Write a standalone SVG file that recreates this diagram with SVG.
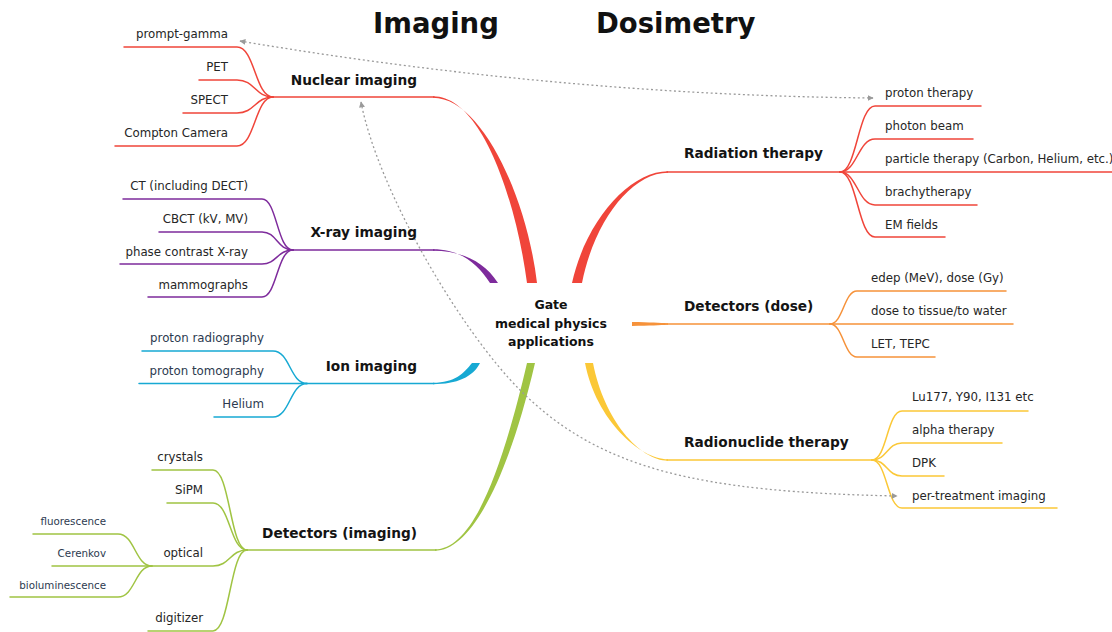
<svg xmlns="http://www.w3.org/2000/svg" width="1112" height="632" viewBox="0 0 1112 632">
<style>
text{font-family:"DejaVu Sans","Liberation Sans",sans-serif}
.title{font-size:27.5px;font-weight:bold;fill:#111}
.topic{font-size:13.7px;font-weight:bold;fill:#141414}
.center{font-size:12.5px;font-weight:bold;fill:#111;text-anchor:middle}
.leaf{font-size:11.8px;fill:#262626}
.leafb{font-size:11.8px;fill:#2c3a4f}
.small{font-size:10.3px;fill:#2c3a4f}
.r{text-anchor:end}
.ln{fill:none;stroke-width:1.5;stroke-linecap:round}
.red{stroke:#f0453a}.pur{stroke:#7e2b9c}.cya{stroke:#17a9d3}.gre{stroke:#a0c443}.ora{stroke:#f6923a}.yel{stroke:#fbc837}
.fred{fill:#f0453a}.fpur{fill:#7e2b9c}.fcya{fill:#17a9d3}.fgre{fill:#a0c443}.fora{fill:#f6923a}.fyel{fill:#fbc837}
.dot{fill:none;stroke:#9a9a9a;stroke-width:1.3;stroke-dasharray:2 2.6}
</style>
<defs>
<marker id="arr" viewBox="0 0 10 10" refX="9" refY="5" markerWidth="6" markerHeight="6" markerUnits="userSpaceOnUse" orient="auto-start-reverse">
<path d="M0,0 L10,5 L0,10 Z" fill="#9a9a9a"/>
</marker>
</defs>

<g id="connectors">
<!-- main branches -->
<path class="fred" d="M433,96.3 C482,96.3 516,200 527,283 L537,283 C527,198 482,97.7 433,97.7 Z"/>
<path class="ln red" d="M273,97 H434"/>
<path class="fpur" d="M433,249.3 C460,249.3 477,263 490,283 L498,283 C484,261 461,250.7 433,250.7 Z"/>
<path class="ln pur" d="M293,250 H434"/>
<path class="fcya" d="M433,382.8 C455,382.8 464,373 472,363 L480,363 C473,377 457,384.2 433,384.2 Z"/>
<path class="ln cya" d="M307,383.5 H434"/>
<path class="fgre" d="M435,549.3 C470,549.3 499,483 527,363 L535,363 C507,483 470,550.7 435,550.7 Z"/>
<path class="ln gre" d="M247,550 H436"/>
<path class="fred" d="M668,171.3 C630,171.3 586,220 572,283 L582,283 C594,222 631,172.7 668,172.7 Z"/>
<path class="ln red" d="M667,172 H840"/>
<path class="fora" d="M632,322 C650,322.3 660,322.8 668,323.2 L668,324.8 C660,325.2 650,325.7 632,326 Z"/>
<path class="ln ora" d="M667,324 H830"/>
<path class="fyel" d="M668,459.3 C640,459.3 596,420 585,363 L593,363 C604,420 640,460.7 668,460.7 Z"/>
<path class="ln yel" d="M667,460 H872"/>

<!-- Nuclear imaging children -->
<path class="ln red" d="M273,97 C255,97 255,47 237,47 H124"/>
<path class="ln red" d="M273,97 C255,97 255,80 237,80 H199"/>
<path class="ln red" d="M273,97 C255,97 255,113 237,113 H183"/>
<path class="ln red" d="M273,97 C255,97 255,146 237,146 H115"/>
<!-- X-ray children -->
<path class="ln pur" d="M293,250 C277,250 277,199 262,199 H123"/>
<path class="ln pur" d="M293,250 C277,250 277,232 262,232 H159"/>
<path class="ln pur" d="M293,250 C277,250 277,264 262,264 H120"/>
<path class="ln pur" d="M293,250 C277,250 277,297 262,297 H148"/>
<!-- Ion children -->
<path class="ln cya" d="M307,383.5 C290,383.5 290,351 273,351 H142"/>
<path class="ln cya" d="M307,383.5 H139"/>
<path class="ln cya" d="M307,383.5 C290,383.5 290,417 273,417 H214"/>
<!-- Detectors imaging children -->
<path class="ln gre" d="M247,550 C230,550 230,470 213,470 H152"/>
<path class="ln gre" d="M247,550 C230,550 230,503 213,503 H167"/>
<path class="ln gre" d="M247,550 C230,550 230,566 213,566 H52"/>
<path class="ln gre" d="M247,550 C230,550 230,631 213,631 H148"/>
<path class="ln gre" d="M152,566 C135,566 135,534 118,534 H33"/>
<path class="ln gre" d="M152,566 C135,566 135,597 118,597 H10"/>
<!-- Radiation therapy children -->
<path class="ln red" d="M840,172 C857,172 858,106 875,106 H981"/>
<path class="ln red" d="M840,172 C857,172 858,139 875,139 H973"/>
<path class="ln red" d="M840,172 H1112"/>
<path class="ln red" d="M840,172 C857,172 858,205 875,205 H977"/>
<path class="ln red" d="M840,172 C857,172 858,237 875,237 H945"/>
<!-- Detectors dose children -->
<path class="ln ora" d="M830,324 C843,324 844,291 857,291 H1006"/>
<path class="ln ora" d="M830,324 H1013"/>
<path class="ln ora" d="M830,324 C843,324 844,357 857,357 H935"/>
<!-- Radionuclide children -->
<path class="ln yel" d="M872,460 C887,460 887,411 902,411 H1028"/>
<path class="ln yel" d="M872,460 C887,460 887,443 902,443 H1002"/>
<path class="ln yel" d="M872,460 C887,460 887,476 902,476 H944"/>
<path class="ln yel" d="M872,460 C887,460 887,508 902,508 H1057"/>

<!-- dotted relationships -->
<path class="dot" d="M240,41 Q560,95 873,98" marker-start="url(#arr)" marker-end="url(#arr)"/>
<path class="dot" d="M361,102 C378,190 460,330 520,390 C600,470 700,492 897,496" marker-start="url(#arr)" marker-end="url(#arr)"/>
</g>

<g id="titles">
<text class="title" x="373" y="33">Imaging</text>
<text class="title" x="596" y="33">Dosimetry</text>
</g>

<g id="center">
<text class="center" x="551" y="309">Gate</text>
<text class="center" x="551" y="328">medical physics</text>
<text class="center" x="551" y="346">applications</text>
</g>

<g id="nuclear-imaging">
<text class="topic r" x="417" y="85">Nuclear imaging</text>
<text class="leaf r" x="228" y="38">prompt-gamma</text>
<text class="leaf r" x="228" y="71">PET</text>
<text class="leaf r" x="228" y="104">SPECT</text>
<text class="leaf r" x="228" y="137">Compton Camera</text>
</g>

<g id="xray-imaging">
<text class="topic r" x="417" y="237">X-ray imaging</text>
<text class="leaf r" x="248" y="190">CT (including DECT)</text>
<text class="leaf r" x="248" y="223">CBCT (kV, MV)</text>
<text class="leaf r" x="248" y="256">phase contrast X-ray</text>
<text class="leaf r" x="248" y="289">mammographs</text>
</g>

<g id="ion-imaging">
<text class="topic r" x="417" y="371">Ion imaging</text>
<text class="leafb r" x="264" y="342">proton radiography</text>
<text class="leafb r" x="264" y="375">proton tomography</text>
<text class="leafb r" x="264" y="408">Helium</text>
</g>

<g id="detectors-imaging">
<text class="topic r" x="417" y="538">Detectors (imaging)</text>
<text class="leaf r" x="203" y="461">crystals</text>
<text class="leaf r" x="203" y="494">SiPM</text>
<text class="leaf r" x="203" y="557">optical</text>
<text class="leaf r" x="203" y="622">digitizer</text>
</g>

<g id="optical">
<text class="small r" x="106" y="525">fluorescence</text>
<text class="small r" x="106" y="557">Cerenkov</text>
<text class="small r" x="106" y="589">bioluminescence</text>
</g>

<g id="radiation-therapy">
<text class="topic" x="684" y="158">Radiation therapy</text>
<text class="leaf" x="885" y="97">proton therapy</text>
<text class="leaf" x="885" y="130">photon beam</text>
<text class="leaf" x="885" y="163">particle therapy (Carbon, Helium, etc.)</text>
<text class="leaf" x="885" y="196">brachytherapy</text>
<text class="leaf" x="885" y="229">EM fields</text>
</g>

<g id="detectors-dose">
<text class="topic" x="684" y="311">Detectors (dose)</text>
<text class="leaf" x="871" y="282">edep (MeV), dose (Gy)</text>
<text class="leaf" x="871" y="315">dose to tissue/to water</text>
<text class="leaf" x="871" y="348">LET, TEPC</text>
</g>

<g id="radionuclide-therapy">
<text class="topic" x="684" y="447">Radionuclide therapy</text>
<text class="leaf" x="912" y="401">Lu177, Y90, I131 etc</text>
<text class="leaf" x="912" y="434">alpha therapy</text>
<text class="leaf" x="912" y="467">DPK</text>
<text class="leaf" x="912" y="500">per-treatment imaging</text>
</g>
</svg>
